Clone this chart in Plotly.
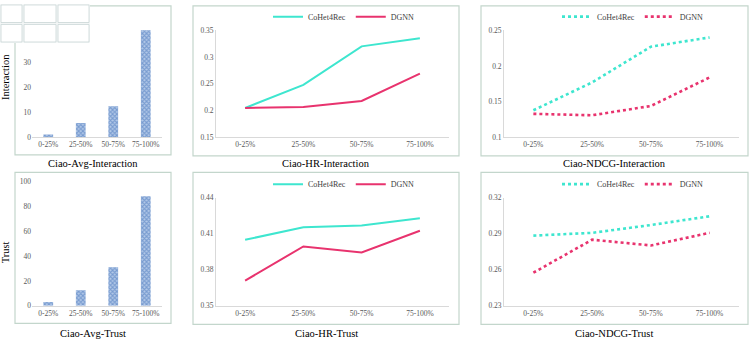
import plotly.graph_objects as go

W, H = 750, 343
categories = ["0-25%", "25-50%", "50-75%", "75-100%"]

avg_interaction = [1.2, 5.8, 12.5, 42.8]
avg_trust = [3.1, 12.5, 31.0, 88.0]

hr_inter_cohet = [0.205, 0.248, 0.320, 0.335]
hr_inter_dgnn = [0.205, 0.207, 0.218, 0.269]
ndcg_inter_cohet = [0.138, 0.177, 0.227, 0.240]
ndcg_inter_dgnn = [0.133, 0.131, 0.144, 0.184]
hr_trust_cohet = [0.405, 0.4155, 0.417, 0.423]
hr_trust_dgnn = [0.371, 0.3995, 0.3945, 0.4125]
ndcg_trust_cohet = [0.2885, 0.2908, 0.2973, 0.3046]
ndcg_trust_dgnn = [0.2576, 0.2851, 0.2803, 0.2908]

titles = ["Ciao-Avg-Interaction", "Ciao-HR-Interaction", "Ciao-NDCG-Interaction",
          "Ciao-Avg-Trust", "Ciao-HR-Trust", "Ciao-NDCG-Trust"]

CYAN = "#3ee6cf"
PINK = "#e8336e"
BAR = "#3f70b8"
BORDER = "#c3d6cc"
AXIS = "#d9d9d9"
TICK = "#595959"
FONT = "Times New Roman, Liberation Serif, serif"


def px(x):
    return x / W


def py(y):
    return 1 - y / H


fig = go.Figure()

bar_marker = dict(color=BAR, line=dict(width=0),
                  pattern=dict(shape="x", size=3, solidity=0.6, fgcolor=BAR, bgcolor="#b3c9e8"))
fig.add_trace(go.Bar(x=categories, y=avg_interaction, width=0.3, xaxis="x", yaxis="y",
                     marker=bar_marker, showlegend=False))
fig.add_trace(go.Bar(x=categories, y=avg_trust, width=0.3, xaxis="x4", yaxis="y4",
                     marker=bar_marker, showlegend=False))

line_specs = [
    ("x2", "y2", hr_inter_cohet, hr_inter_dgnn, "solid", "legend"),
    ("x3", "y3", ndcg_inter_cohet, ndcg_inter_dgnn, "dot", "legend2"),
    ("x5", "y5", hr_trust_cohet, hr_trust_dgnn, "solid", "legend3"),
    ("x6", "y6", ndcg_trust_cohet, ndcg_trust_dgnn, "dot", "legend4"),
]
for xa, ya, c, d, dash, lg in line_specs:
    wdt = 2 if dash == "solid" else 2.6
    fig.add_trace(go.Scatter(x=categories, y=c, mode="lines", name="CoHet4Rec", xaxis=xa, yaxis=ya,
                             line=dict(color=CYAN, width=wdt, dash=dash), legend=lg))
    fig.add_trace(go.Scatter(x=categories, y=d, mode="lines", name="DGNN", xaxis=xa, yaxis=ya,
                             line=dict(color=PINK, width=wdt, dash=dash), legend=lg))

tickfont = dict(family=FONT, size=7.5, color=TICK)

xdom_bar = [px(32), px(162)]
xdom_mid = [px(216), px(449)]
xdom_right = [px(504), px(739)]
ydom_top_bar = [py(137), py(8.5)]
ydom_top = [py(137), py(27)]
ydom_bot_bar = [py(310), py(182)]
ydom_bot = [py(310), py(199)]

axes = {
    "": (xdom_bar, ydom_top_bar, [0, 50], [0, 10, 20, 30, 40], False),
    "2": (xdom_mid, ydom_top, [0.15, 0.35], [0.15, 0.2, 0.25, 0.3, 0.35], True),
    "3": (xdom_right, ydom_top, [0.1, 0.25], [0.1, 0.15, 0.2, 0.25], True),
    "4": (xdom_bar, ydom_bot_bar, [0, 100], [0, 20, 40, 60, 80, 100], False),
    "5": (xdom_mid, ydom_bot, [0.35, 0.44], [0.35, 0.38, 0.41, 0.44], True),
    "6": (xdom_right, ydom_bot, [0.23, 0.32], [0.23, 0.26, 0.29, 0.32], True),
}
layout_axes = {}
for k, (xd, yd, yr, tv, yline) in axes.items():
    layout_axes["xaxis" + k] = dict(domain=xd, anchor="y" + k, type="category", range=[-0.5, 3.5],
                                   showline=True, linecolor=AXIS, linewidth=1, showgrid=False,
                                   ticks="", tickfont=tickfont, fixedrange=True, zeroline=False)
    layout_axes["yaxis" + k] = dict(domain=yd, anchor="x" + k, range=yr, tickvals=tv,
                                   ticktext=[("%g" % v) for v in tv],
                                   showline=yline, linecolor=AXIS, linewidth=1, showgrid=False,
                                   zeroline=False, ticks="", tickfont=tickfont, fixedrange=True)

shapes = []
boxes = [(15, 2, 171, 155), (193, 2, 459, 156), (481, 2, 748, 156),
         (15, 173, 171, 328), (193, 173, 459, 329), (481, 173, 748, 329)]
for x0, y0, x1, y1 in boxes:
    shapes.append(dict(type="rect", xref="paper", yref="paper", x0=px(x0), x1=px(x1), y0=py(y1), y1=py(y0),
                       line=dict(color=BORDER, width=1.2), fillcolor="rgba(0,0,0,0)", layer="below"))

# small thumbnail artifact at top-left corner
shapes.append(dict(type="rect", xref="paper", yref="paper", x0=0, x1=px(90), y0=py(40), y1=1,
                   line=dict(width=0), fillcolor="#f4f7f7", layer="above"))
for tx0, ty0, tx1, ty1 in [(1, 1, 22, 19), (24, 1, 56, 19), (58, 1, 89, 19),
                           (1, 21, 22, 39), (24, 21, 56, 39), (58, 21, 89, 39)]:
    shapes.append(dict(type="rect", xref="paper", yref="paper", x0=px(tx0), x1=px(tx1), y0=py(ty1), y1=py(ty0),
                       line=dict(color="#c9d6d6", width=0.8), fillcolor="#ffffff", layer="above"))

centers = [93, 326, 614, 93, 326, 614]
ys = [164, 164, 164, 338, 338, 338]
annotations = []
for t, cx, cy in zip(titles, centers, ys):
    annotations.append(dict(text=t, x=px(cx), y=py(cy), xref="paper", yref="paper", showarrow=False,
                            xanchor="center", yanchor="middle", font=dict(family=FONT, size=10.5, color="#000")))
annotations.append(dict(text="Interaction", x=px(5), y=py(75), xref="paper", yref="paper", showarrow=False,
                        textangle=-90, xanchor="center", yanchor="middle",
                        font=dict(family=FONT, size=10.5, color="#000")))
annotations.append(dict(text="Trust", x=px(5), y=py(255), xref="paper", yref="paper", showarrow=False,
                        textangle=-90, xanchor="center", yanchor="middle",
                        font=dict(family=FONT, size=10.5, color="#000")))

legfont = dict(family=FONT, size=8, color="#404040")


def leg(x, y):
    return dict(x=px(x), y=py(y), xanchor="left", yanchor="middle", orientation="h",
                font=legfont, bgcolor="rgba(0,0,0,0)", itemwidth=30, tracegroupgap=0,
                itemclick=False, itemdoubleclick=False)


fig.update_layout(
    width=W, height=H, margin=dict(l=0, r=0, t=0, b=0),
    paper_bgcolor="white", plot_bgcolor="white",
    font=dict(family=FONT),
    showlegend=True,
    legend=leg(268, 13), legend2=leg(557, 13), legend3=leg(268, 185), legend4=leg(557, 185),
    shapes=shapes, annotations=annotations, bargap=0.5,
    **layout_axes,
)

fig.write_html("out.html")
